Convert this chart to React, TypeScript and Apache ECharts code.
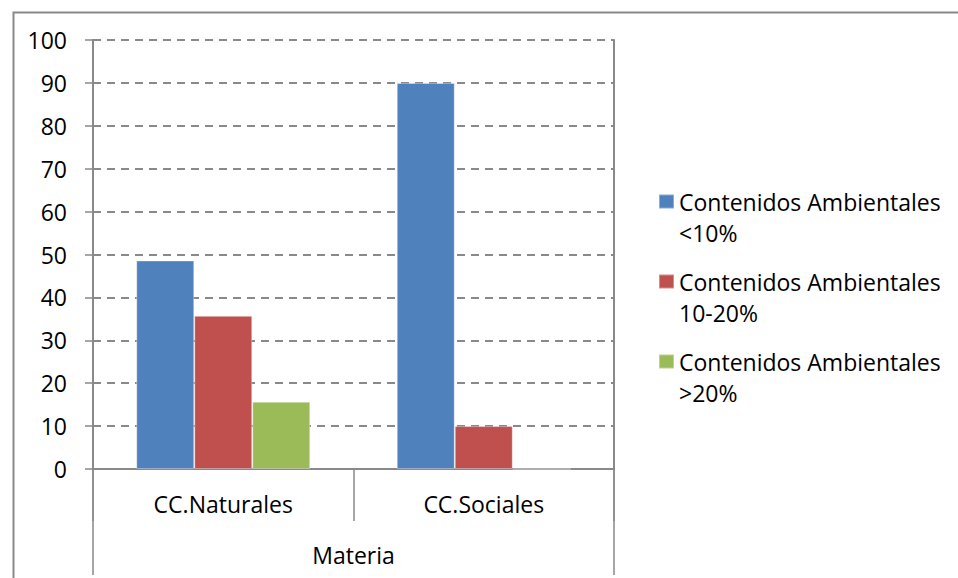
import React, { useEffect, useRef } from "react";
import * as echarts from "echarts";

const categories = ["CC.Naturales", "CC.Sociales"];
const outerCategory = ["Materia"];
const seriesNames = [
  "Contenidos Ambientales <10%",
  "Contenidos Ambientales 10-20%",
  "Contenidos Ambientales >20%",
];
const lowValues = [48.6, 90];
const midValues = [35.7, 10];
const highValues = [15.7, 0];
const seriesColors = ["#4f81bd", "#c0504d", "#9bbb59"];

const FONT = "'Open Sans', sans-serif";
const GRAY = "#898989";

export default function App() {
  const ref = useRef<HTMLDivElement>(null);
  useEffect(() => {
    if (!ref.current) return;
    const chart = echarts.init(ref.current, null, { renderer: "svg" });
    const values = [lowValues, midValues, highValues];
    const legendTops = [155, 235, 315];
    chart.setOption({
      animation: false,
      textStyle: { fontFamily: FONT },
      grid: { left: 93, right: 344, top: 40, bottom: 109, containLabel: false },
      legend: seriesNames.map((n, i) => ({
        data: [n],
        left: 658,
        top: legendTops[i],
        orient: "vertical",
        icon: "rect",
        itemWidth: 15,
        itemHeight: 14,
        itemGap: 0,
        padding: 0,
        selectedMode: false,
        formatter: (name: string) => "\n" + name.replace(/ (?=[^ ]*$)/, "\n"),
        textStyle: {
          fontFamily: FONT,
          fontSize: 23,
          color: "#000",
          lineHeight: 31,
        },
      })),
      xAxis: [
        {
          type: "category",
          data: categories,
          position: "bottom",
          axisLine: { show: true, lineStyle: { color: GRAY, width: 2 } },
          axisTick: { show: true, interval: 0, length: 52, lineStyle: { color: GRAY, width: 1.5 } },
          axisLabel: { fontFamily: FONT, fontSize: 23, color: "#000", margin: 23, interval: 0 },
        },
        {
          type: "category",
          data: outerCategory,
          position: "bottom",
          axisLine: { show: false },
          axisTick: { show: true, interval: 0, length: 106, lineStyle: { color: GRAY, width: 1.5 } },
          axisLabel: { fontFamily: FONT, fontSize: 23, color: "#000", margin: 74 },
        },
      ],
      yAxis: [
        {
          type: "value",
          min: 0,
          max: 100,
          interval: 10,
          axisLine: { show: true, lineStyle: { color: GRAY, width: 2 } },
          axisTick: { show: true, length: 8, lineStyle: { color: GRAY, width: 1.5 } },
          axisLabel: { fontFamily: FONT, fontSize: 23, color: "#000", margin: 26 },
          splitLine: { show: true, lineStyle: { color: GRAY, width: 2, type: [8, 6] } },
        },
        {
          type: "value",
          position: "right",
          min: 0,
          max: 100,
          interval: 10,
          axisLine: { show: true, lineStyle: { color: GRAY, width: 2 } },
          axisTick: { show: false },
          axisLabel: { show: false },
          splitLine: { show: false },
        },
      ],
      graphic: [
        {
          type: "rect",
          left: 11,
          top: 10,
          shape: { width: 1000, height: 620 },
          style: { fill: "none", stroke: GRAY, lineWidth: 2 },
          silent: true,
        },
      ],
      series: seriesNames.map((n, i) => ({
        name: n,
        type: "bar",
        xAxisIndex: 0,
        yAxisIndex: 0,
        data: values[i],
        barWidth: 58,
        barGap: "0%",
        itemStyle: {
          color: seriesColors[i],
          borderColor: "rgba(255,255,255,0.35)",
          borderWidth: 1,
        },
      })),
    });
    return () => chart.dispose();
  }, []);
  return (
    <div
      ref={ref}
      style={{ position: "absolute", left: 0, top: 0, width: 958, height: 578, background: "#fff" }}
    />
  );
}
